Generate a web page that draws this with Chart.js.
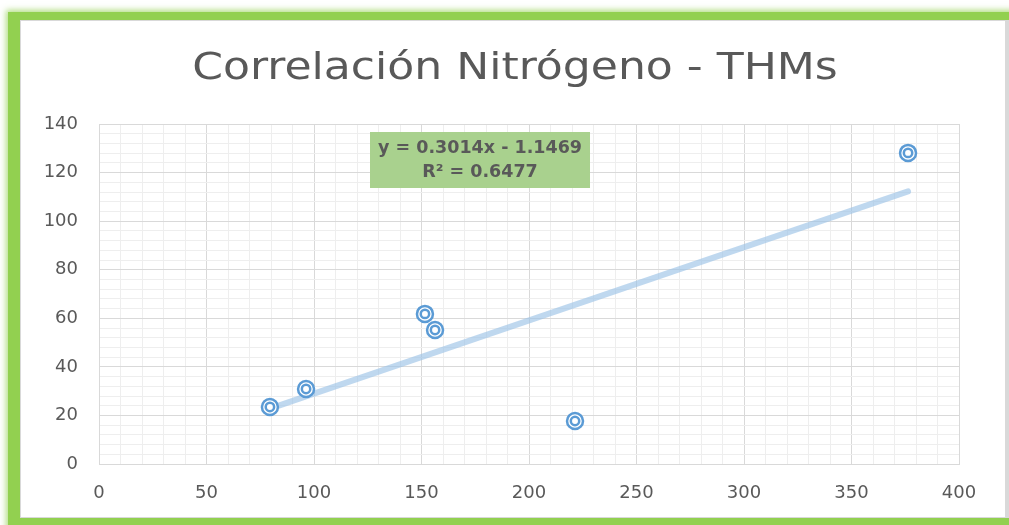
<!DOCTYPE html>
<html>
<head>
<meta charset="utf-8">
<script src="https://cdn.jsdelivr.net/npm/chart.js@4"></script>
<style>
  html, body { margin: 0; padding: 0; background: #fff; overflow: hidden; }
  body { width: 1009px; height: 525px; position: relative; }
  #frame {
    position: absolute; left: 8px; top: 12px; width: 1040px; height: 540px;
    background: #92d050;
    box-shadow: 0 0 6px 2px rgba(146, 208, 80, 0.7);
  }
  #panel {
    position: absolute; left: 20px; top: 20px; width: 989px; height: 498px;
    box-sizing: border-box; background: #fff;
    border: 1px solid #d9d9d9; border-right: 4px solid #d9d9d9;
  }
  #chartBox { position: absolute; left: 21px; top: 21px; width: 983px; height: 496px; }
</style>
</head>
<body>
<div id="frame"></div>
<div id="panel"></div>
<div id="chartBox"><canvas id="chart"></canvas></div>

<script>
// ── Data ──────────────────────────────────────────────────────
const nitrogen = [79.5, 96.3, 151.6, 156.3, 221.4, 376.3];
const thms     = [23.5, 30.9, 61.8, 55.2, 17.7, 128.1];
const trendCoef = [0.3014, -1.1469];          // slope, intercept
const trendText = ['y = 0.3014x - 1.1469', 'R² = 0.6477'];
const chartTitle = 'Correlación Nitrógeno - THMs';
const xTicks   = [0, 50, 100, 150, 200, 250, 300, 350, 400];
const yTicks   = [0, 20, 40, 60, 80, 100, 120, 140];

// ── Derived points ────────────────────────────────────────────
const points = nitrogen.map((x, i) => ({ x, y: thms[i] }));
const xMin   = Math.min(...nitrogen);
const xMax   = Math.max(...nitrogen);
const trend  = [xMin, xMax].map(x => ({ x, y: trendCoef[0] * x + trendCoef[1] }));

const textColor = '#595959';
const majorGrid = '#d9d9d9';
const minorGrid = '#eeeeee';

Chart.defaults.font.family = '"DejaVu Sans", sans-serif';
Chart.defaults.color = textColor;

// ── Title + equation label ────────────────────────────────────
const overlay = {
  id: 'overlay',
  afterDraw(chart) {
    const { ctx, chartArea } = chart;

    // title, slightly widened like the original
    ctx.save();
    ctx.fillStyle = textColor;
    ctx.font = '38px "DejaVu Sans"';
    ctx.textAlign = 'center';
    ctx.textBaseline = 'alphabetic';
    ctx.translate(494, 58);
    ctx.scale(1.16, 1);
    ctx.fillText(chartTitle, 0, 0);
    ctx.restore();

    // trendline equation
    const left = chartArea.left + 271;
    const top  = chartArea.top + 8;
    ctx.save();
    ctx.fillStyle = '#a9d18e';
    ctx.fillRect(left, top, 220, 56);
    ctx.fillStyle = textColor;
    ctx.font = 'bold 17.5px "DejaVu Sans"';
    ctx.textAlign = 'center';
    ctx.textBaseline = 'middle';
    ctx.fillText(trendText[0], left + 110, top + 16);
    ctx.fillText(trendText[1], left + 110, top + 40);
    ctx.restore();
  }
};

// ── Chart ─────────────────────────────────────────────────────
new Chart(document.getElementById('chart'), {
  type: 'scatter',
  data: {
    datasets: [
      {
        type: 'line',
        data: trend,
        borderColor: 'rgba(157, 195, 230, 0.65)',
        borderWidth: 6,
        borderCapStyle: 'round',
        pointRadius: 0,
        order: 3
      },
      {
        data: points,
        pointRadius: 8,
        borderWidth: 2.5,
        borderColor: '#5b9bd5',
        backgroundColor: '#ffffff',
        order: 2
      },
      {
        data: points,
        pointRadius: 4.2,
        borderWidth: 2.5,
        borderColor: '#5b9bd5',
        backgroundColor: '#ffffff',
        order: 1
      }
    ]
  },
  options: {
    animation: false,
    responsive: true,
    maintainAspectRatio: false,
    layout: { padding: { left: 0, right: 45, top: 103, bottom: 0 } },
    plugins: {
      legend:  { display: false },
      tooltip: { enabled: false },
      title:   { display: false }
    },
    scales: {
      x: {
        type: 'linear',
        min: xTicks[0],
        max: xTicks[xTicks.length - 1],
        afterFit: s => { s.height = 53; },
        ticks: {
          stepSize: 10,
          autoSkip: false,
          maxRotation: 0,
          padding: 19,
          font: { size: 18 },
          callback: v => (xTicks.includes(v) ? v : '')
        },
        grid: {
          drawTicks: false,
          color: c => (xTicks.includes(c.tick.value) ? majorGrid : minorGrid)
        },
        border: { color: majorGrid }
      },
      y: {
        min: yTicks[0],
        max: yTicks[yTicks.length - 1],
        afterFit: s => { s.width = 78; },
        ticks: {
          stepSize: 4,
          autoSkip: false,
          padding: 21,
          font: { size: 18 },
          callback: v => (yTicks.includes(v) ? v : '')
        },
        grid: {
          drawTicks: false,
          color: c => (yTicks.includes(c.tick.value) ? majorGrid : minorGrid)
        },
        border: { color: majorGrid }
      }
    }
  },
  plugins: [overlay]
});
</script>
</body>
</html>
